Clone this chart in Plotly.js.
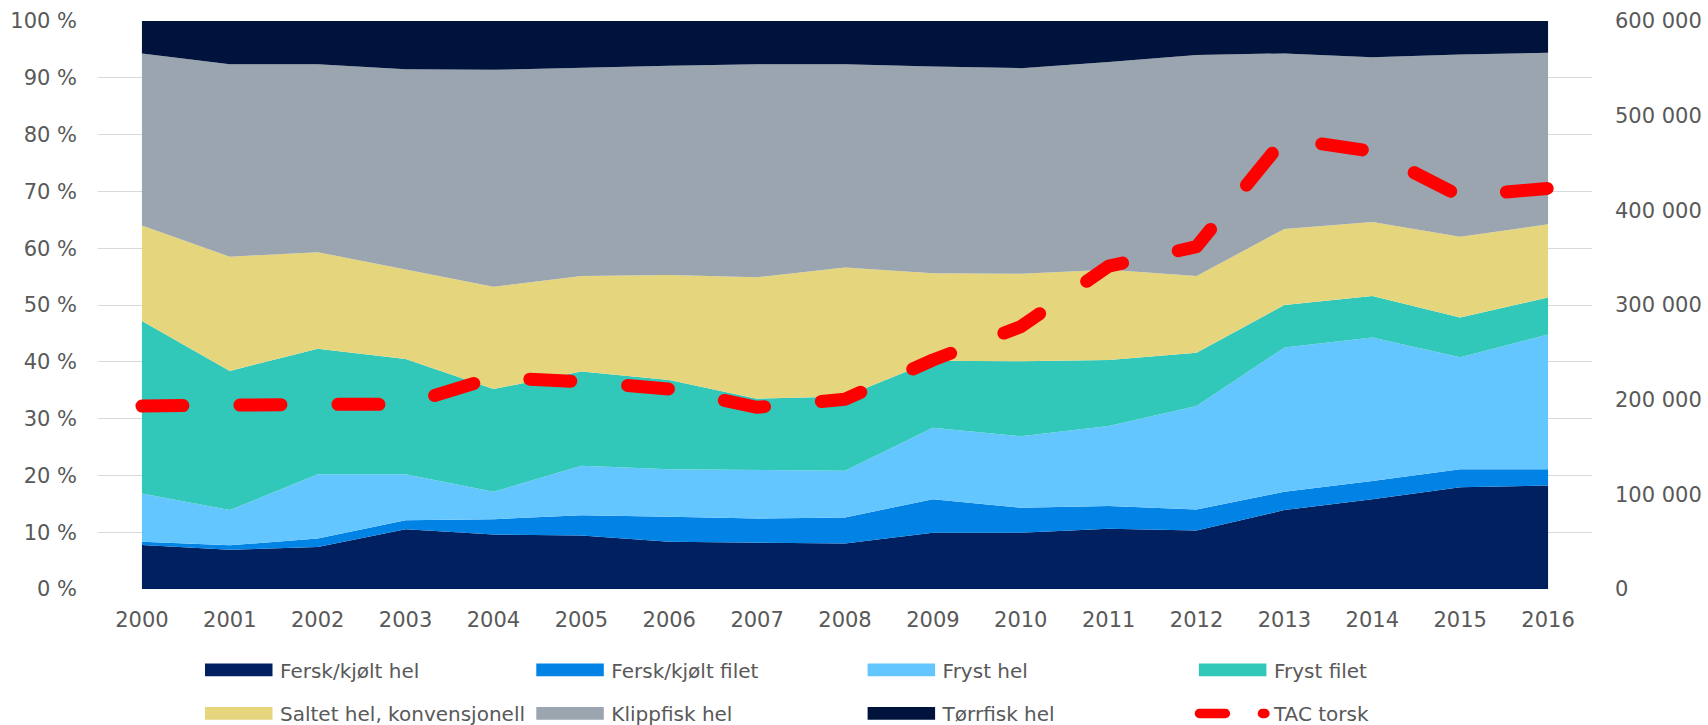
<!DOCTYPE html>
<html><head><meta charset="utf-8">
<script src="https://cdn.plot.ly/plotly-3.0.1.min.js"></script>
<style>
html,body{margin:0;padding:0;background:#fff;}
#chart{width:1708px;height:725px;}
.scatterlayer path.js-line{stroke-linecap:round !important;stroke-linejoin:round !important;}
.infolayer .legendfill path{d:path("M5,-6.4h67.5v12.7h-67.5z");}
</style></head><body><div id="chart"></div>
<script>
const years = [2000,2001,2002,2003,2004,2005,2006,2007,2008,2009,2010,2011,2012,2013,2014,2015,2016];
// share of export (%)
const ferskHel    = [7.75,6.9,7.4,10.5,9.6,9.4,8.3,8.2,8.0,9.9,9.9,10.6,10.3,13.9,15.8,17.9,18.2];
const ferskFilet  = [0.55,0.8,1.5,1.6,2.7,3.6,4.4,4.2,4.6,5.9,4.4,4.0,3.7,3.2,3.2,3.2,2.9];
const frystHel    = [8.5,6.2,11.3,8.1,4.8,8.7,8.4,8.5,8.2,12.6,12.6,14.1,18.2,25.4,25.3,19.7,23.7];
const frystFilet  = [30.4,24.5,22.1,20.3,18.1,16.6,15.7,12.6,13.1,11.8,13.2,11.6,9.4,7.5,7.3,7.0,6.5];
const saltet      = [16.8,20.1,17.0,15.8,18.0,16.8,18.5,21.4,22.7,15.4,15.4,15.9,13.5,13.4,13.0,14.2,12.9];
const klippfisk   = [30.3,33.9,33.1,35.2,38.2,36.7,36.8,37.5,35.8,36.4,36.2,36.6,38.9,30.9,29.0,32.1,30.2];
const torrfisk    = [5.7,7.6,7.6,8.5,8.6,8.2,7.9,7.6,7.6,8.0,8.3,7.2,6.0,5.7,6.4,5.9,5.6];
// TAC torsk (tonn)
const tacTorsk    = [193300,195100,195100,195000,223500,219000,211300,191900,200400,241900,277100,341000,361600,476000,462300,415100,423200];

const seriesNames = ["Fersk/kjølt hel","Fersk/kjølt filet","Fryst hel","Fryst filet","Saltet hel, konvensjonell","Klippfisk hel","Tørrfisk hel"];
const seriesData  = [ferskHel,ferskFilet,frystHel,frystFilet,saltet,klippfisk,torrfisk];
const seriesColors = ["#002060","#0083E5","#64C6FE","#32C8B9","#E5D67D","#9BA5AF","#00133C"];
const tacName = "TAC torsk";

const FONT = "DejaVu Sans, sans-serif";
const traces = seriesData.map((vals,i)=>({
  type:"scatter", mode:"lines", x:years, y:vals, name:seriesNames[i],
  stackgroup:"one", fillcolor:seriesColors[i],
  line:{width:0,color:seriesColors[i]},
  legend: i<4 ? "legend" : "legend2",
  hoverinfo:"x+y+name"
}));
traces.push({
  type:"scatter", mode:"lines", x:years, y:tacTorsk, name:tacName, yaxis:"y2",
  line:{color:"#FF0000", width:13, dash:"41px,57px"},
  legend:"legend2"
});

const tickFont = {family:FONT,size:21,color:"#595959"};
const legFont = {family:FONT,size:20,color:"#595959"};
const legCommon = {orientation:"h", xanchor:"left", yanchor:"middle", font:legFont, entrywidth:246.3, entrywidthmode:"pixels", itemwidth:70, traceorder:"normal", bgcolor:"rgba(0,0,0,0)", borderwidth:0, itemclick:false, itemdoubleclick:false};
const layout = {
  width:1708, height:725,
  margin:{l:98,r:116,t:21,b:136,pad:0,autoexpand:false},
  paper_bgcolor:"#fff", plot_bgcolor:"#fff",
  separators:", ",
  showlegend:true,
  xaxis:{range:[1999.5,2016.5], tickvals:years, ticktext:years.map(String), showgrid:false, zeroline:false, showline:false, ticks:"", tickfont:tickFont, ticklabelstandoff:16, fixedrange:true},
  yaxis:{range:[0,100], dtick:10, ticksuffix:" %", showgrid:true, gridcolor:"#D9D9D9", gridwidth:1.3, zeroline:false, showline:false, ticks:"", tickfont:tickFont, ticklabelstandoff:20, fixedrange:true},
  yaxis2:{range:[0,600000], dtick:100000, tickformat:",d", overlaying:"y", side:"right", showgrid:false, zeroline:false, showline:false, ticks:"", tickfont:tickFont, ticklabelstandoff:22, fixedrange:true},
  legend:Object.assign({x:(200-98)/1494, y:(589-670)/568}, legCommon),
  legend2:Object.assign({x:(200-98)/1494, y:(589-713.5)/568}, legCommon)
};
function fixTacLegend(){
  document.querySelectorAll(".infolayer .legendlines path").forEach(p=>{
    const s = (p.getAttribute("style")||"") + " " + (p.style.stroke||"");
    if (s.indexOf("255, 0, 0")>=0 || s.toLowerCase().indexOf("#ff0000")>=0) {
      p.setAttribute("d","M5.5,0h65.5");
      p.style.strokeWidth = "9.5px";
      p.style.strokeDasharray = "26px,37px";
      p.style.strokeLinecap = "round";
    }
  });
}
Plotly.newPlot("chart", traces, layout, {displayModeBar:false}).then(fixTacLegend);
</script></body></html>
